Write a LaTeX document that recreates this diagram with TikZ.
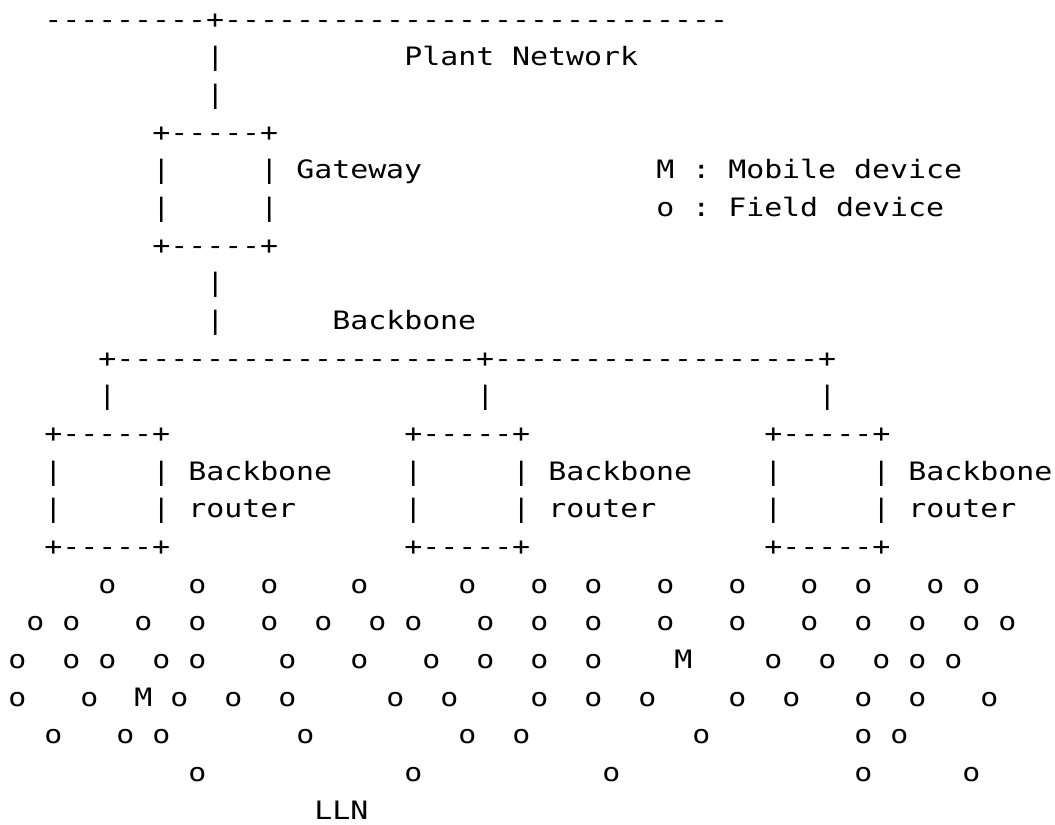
\documentclass[tikz,border=0pt]{standalone}
\usepackage{fontspec}
\newfontfamily\asciifont[FakeStretch=1.18,Ligatures=TeXOff]{DejaVu Sans Mono}
\frenchspacing
\tikzset{ascii/.style={font=\asciifont\fontsize{19pt}{23pt}\selectfont, inner sep=0pt, anchor=base west}}

\begin{document}
\begin{tikzpicture}[x=13.5pt, y=-28.25pt]
\useasboundingbox (0,0) rectangle (58.611,21.876);
% one unit = one character cell, one row = one text line
\begin{scope}[shift={(0.4444,-0.2566)}]
% plant network and gateway
\node[ascii] (plantbus) at (2,1) {---------+----------------------------};
\node[ascii] (up2) at (11,2) {|};
\node[ascii] (plant) at (22,2) {Plant Network};
\node[ascii] (up3) at (11,3) {|};
\node[ascii] (gwtop) at (8,4) {+-----+};
\foreach \r in {5,6} {
  \node[ascii] (gwl\r) at (8,\r) {|};
  \node[ascii] (gwr\r) at (14,\r) {|};
}
\node[ascii] (gw) at (16,5) {Gateway};
\node[ascii] (keym) at (36,5) {M : Mobile device};
\node[ascii] (keyo) at (36,6) {o : Field device};
\node[ascii] (gwbot) at (8,7) {+-----+};
\node[ascii] (down8) at (11,8) {|};
\node[ascii] (down9) at (11,9) {|};
\node[ascii] (bb) at (18,9) {Backbone};
% backbone bus and routers
\node[ascii] (bbbus) at (5,10) {+--------------------+------------------+};
\foreach \c in {5,26,45}
  \node[ascii] (drop\c) at (\c,11) {|};
\foreach \c/\n in {2/a,22/b,42/c} {
  \node[ascii] (bbr\n top) at (\c,12) {+-----+};
  \foreach \r in {13,14} {
    \node[ascii] (bbr\n l\r) at (\c,\r) {|};
    \node[ascii] (bbr\n r\r) at (\c+6,\r) {|};
  }
  \node[ascii] (bbr\n name) at (\c+8,13) {Backbone};
  \node[ascii] (bbr\n kind) at (\c+8,14) {router};
  \node[ascii] (bbr\n bot) at (\c,15) {+-----+};
}
% LLN field devices
\foreach \c in {5,10,14,19,25,29,32,36,40,44,47,51,53}
  \node[ascii] (o16-\c) at (\c,16) {o};
\foreach \c in {1,3,7,10,14,17,20,22,26,29,32,36,40,44,47,50,53,55}
  \node[ascii] (o17-\c) at (\c,17) {o};
\foreach \c in {0,3,5,8,10,15,19,23,26,29,32,42,45,48,50,52}
  \node[ascii] (o18-\c) at (\c,18) {o};
\node[ascii] (m18) at (37,18) {M};
\foreach \c in {0,4,9,12,15,21,24,29,32,35,40,43,47,50,54}
  \node[ascii] (o19-\c) at (\c,19) {o};
\node[ascii] (m19) at (7,19) {M};
\foreach \c in {2,6,8,16,25,28,38,47,49}
  \node[ascii] (o20-\c) at (\c,20) {o};
\foreach \c in {10,22,33,47,53}
  \node[ascii] (o21-\c) at (\c,21) {o};
\node[ascii] (lln) at (17,22) {LLN};
\end{scope}
\end{tikzpicture}
\end{document}
